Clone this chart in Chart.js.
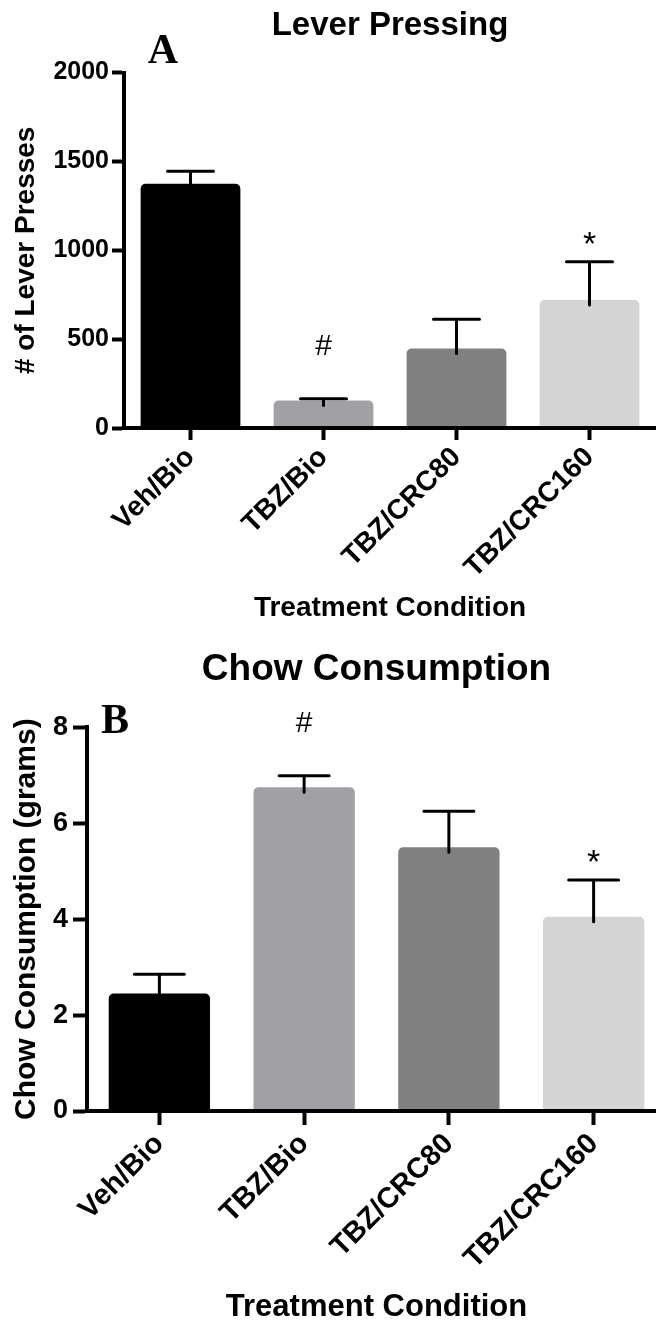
<!DOCTYPE html>
<html>
<head>
<meta charset="utf-8">
<title>Lever Pressing / Chow Consumption</title>
<script src="https://cdn.jsdelivr.net/npm/chart.js@4.4.1/dist/chart.umd.min.js"></script>
<style>
  html, body { margin: 0; padding: 0; background: #fff; overflow: hidden; }
  canvas { display: block; }
</style>
</head>
<body>
<canvas id="leverChart" width="656" height="640"></canvas>
<canvas id="chowChart" width="666" height="700"></canvas>
<script>
// Data

const conditions = ['Veh/Bio', 'TBZ/Bio', 'TBZ/CRC80', 'TBZ/CRC160'];
const barColors = ['#000000', '#a1a1a5', '#808080', '#d4d4d4'];

const leverMeans = [1375, 155, 447, 720];
const leverErrors = [70, 10, 165, 215];
const leverMarks = ['', '#', '', '*'];
const leverTicks = [0, 500, 1000, 1500, 2000];

const chowMeans = [2.45, 6.75, 5.5, 4.05];
const chowErrors = [0.4, 0.24, 0.75, 0.77];
const chowMarks = ['', '#', '', '*'];
const chowTicks = [0, 2, 4, 6, 8];

const FONT = "'Liberation Sans', Arial, Helvetica, sans-serif";

// error bars, significance marks and panel letter
const errorBarPlugin = {
    id: 'errorBars',
    afterDatasetsDraw(chart, args, opts) {
        const ctx = chart.ctx;
        const yScale = chart.scales.y;
        const meta = chart.getDatasetMeta(0);
        const means = chart.data.datasets[0].data;
        ctx.save();
        ctx.strokeStyle = '#000';
        ctx.lineWidth = 3;
        ctx.lineCap = 'round';
        meta.data.forEach((bar, i) => {
            const top = yScale.getPixelForValue(means[i] + opts.errors[i]);
            ctx.beginPath();
            ctx.moveTo(bar.x, bar.y + 5);
            ctx.lineTo(bar.x, top);
            ctx.moveTo(bar.x - opts.capWidth / 2, top);
            ctx.lineTo(bar.x + opts.capWidth / 2, top);
            ctx.stroke();

            const mark = opts.marks[i];
            if (mark) {
                // glyph centred a fixed distance above the cap
                const lift = mark === '#' ? 54 : 24;
                ctx.fillStyle = '#000';
                ctx.font = (mark === '#' ? '30px ' : '34px ') + FONT;
                ctx.textAlign = 'center';
                ctx.textBaseline = 'alphabetic';
                const m = ctx.measureText(mark);
                const mid = (m.actualBoundingBoxAscent - m.actualBoundingBoxDescent) / 2;
                ctx.fillText(mark, bar.x, top - lift + mid);
            }
        });
        ctx.restore();
    },
    afterDraw(chart, args, opts) {
        const ctx = chart.ctx;
        ctx.save();
        ctx.fillStyle = '#000';
        ctx.font = "bold 42px 'Liberation Serif', 'Times New Roman', serif";
        ctx.textAlign = 'center';
        ctx.textBaseline = 'alphabetic';
        ctx.fillText(opts.letter, opts.letterX, opts.letterY);
        ctx.restore();
    }
};

function axisStyle(tickLength) {
    return {
        grid: {
            display: true,
            drawOnChartArea: false,
            offset: false,
            tickLength: tickLength,
            tickWidth: 4,
            color: '#000'
        },
        border: { display: true, color: '#000', width: 4, z: 1 }
    };
}

const plainNumber = function(value) { return String(value); };

const ctxLever = document.getElementById('leverChart').getContext('2d');
const leverChart = new Chart(ctxLever, {
    type: 'bar',
    data: {
        labels: conditions,
        datasets: [{
            data: leverMeans,
            backgroundColor: barColors,
            borderWidth: 0,
            borderRadius: 5,
            borderSkipped: 'start',
            barPercentage: 0.75,
            categoryPercentage: 1
        }]
    },
    options: {
        responsive: false,
        devicePixelRatio: 1,
        animation: false,
        events: [],
        layout: { padding: 0 },
        plugins: {
            legend: { display: false },
            tooltip: { enabled: false },
            title: {
                display: true,
                fullSize: false,
                text: 'Lever Pressing',
                color: '#000',
                font: { family: FONT, size: 33, weight: 'bold' },
                padding: { top: 6, bottom: 27 }
            },
            errorBars: {
                errors: leverErrors,
                marks: leverMarks,
                capWidth: 46,
                letter: 'A',
                letterX: 163,
                letterY: 63
            }
        },
        scales: {
            x: {
                ...axisStyle(12),
                ticks: {
                    color: '#000',
                    font: { family: FONT, size: 28, weight: 'bold' },
                    minRotation: 45,
                    maxRotation: 45,
                    padding: 1
                },
                title: {
                    display: true,
                    text: 'Treatment Condition',
                    color: '#000',
                    font: { family: FONT, size: 28, weight: 'bold' },
                    padding: { top: 0, bottom: 15 }
                },
                afterFit: function(scale) { scale.height = 212; }
            },
            y: {
                ...axisStyle(12),
                min: 0,
                max: 2000,
                afterBuildTicks: function(scale) {
                    scale.ticks = leverTicks.map(v => ({ value: v }));
                },
                ticks: {
                    color: '#000',
                    font: { family: FONT, size: 25, weight: 'bold' },
                    padding: 3,
                    callback: plainNumber
                },
                title: {
                    display: true,
                    text: '# of Lever Presses',
                    color: '#000',
                    font: { family: FONT, size: 28, weight: 'bold' },
                    padding: { top: 9, bottom: 0 }
                },
                afterFit: function(scale) { scale.width = 124; }
            }
        }
    },
    plugins: [errorBarPlugin]
});

const ctxChow = document.getElementById('chowChart').getContext('2d');
const chowChart = new Chart(ctxChow, {
    type: 'bar',
    data: {
        labels: conditions,
        datasets: [{
            data: chowMeans,
            backgroundColor: barColors,
            borderWidth: 0,
            borderRadius: 5,
            borderSkipped: 'start',
            barPercentage: 0.7,
            categoryPercentage: 1
        }]
    },
    options: {
        responsive: false,
        devicePixelRatio: 1,
        animation: false,
        events: [],
        layout: { padding: 0 },
        plugins: {
            legend: { display: false },
            tooltip: { enabled: false },
            title: {
                display: true,
                fullSize: false,
                text: 'Chow Consumption',
                color: '#000',
                font: { family: FONT, size: 37, weight: 'bold' },
                padding: { top: 8, bottom: 35 }
            },
            errorBars: {
                errors: chowErrors,
                marks: chowMarks,
                capWidth: 50,
                letter: 'B',
                letterX: 115,
                letterY: 93
            }
        },
        scales: {
            x: {
                ...axisStyle(14),
                ticks: {
                    color: '#000',
                    font: { family: FONT, size: 29, weight: 'bold' },
                    minRotation: 45,
                    maxRotation: 45,
                    padding: 2
                },
                title: {
                    display: true,
                    text: 'Treatment Condition',
                    color: '#000',
                    font: { family: FONT, size: 31, weight: 'bold' },
                    padding: { top: 0, bottom: 14 }
                },
                afterFit: function(scale) { scale.height = 229; }
            },
            y: {
                ...axisStyle(14),
                min: 0,
                max: 8,
                afterBuildTicks: function(scale) {
                    scale.ticks = chowTicks.map(v => ({ value: v }));
                },
                ticks: {
                    color: '#000',
                    font: { family: FONT, size: 27, weight: 'bold' },
                    padding: 5,
                    callback: plainNumber
                },
                title: {
                    display: true,
                    text: 'Chow Consumption (grams)',
                    color: '#000',
                    font: { family: FONT, size: 30, weight: 'bold' },
                    padding: { top: 9, bottom: 0 }
                },
                afterFit: function(scale) { scale.width = 87; }
            }
        }
    },
    plugins: [errorBarPlugin]
});
</script>
</body>
</html>
